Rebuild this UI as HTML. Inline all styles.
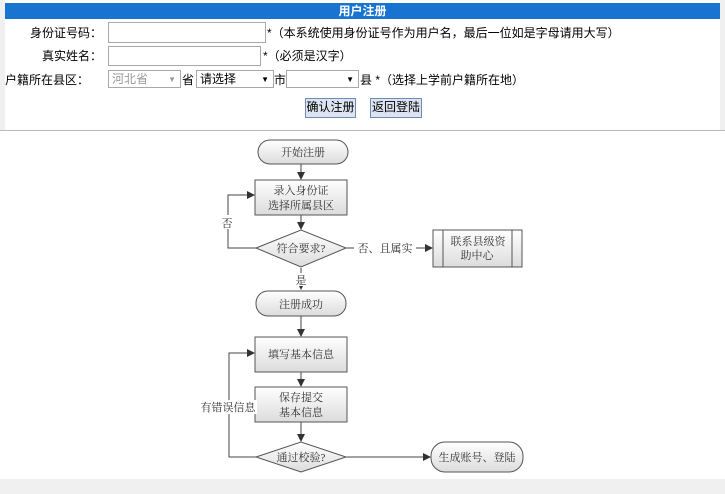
<!DOCTYPE html>
<html><head><meta charset="utf-8"><style>
body{margin:0;width:725px;height:494px;background:#f0f0f0;font-family:"Liberation Sans","Noto Sans CJK SC",sans-serif;font-size:12px;color:#000;position:relative;overflow:hidden}
.a{position:absolute;white-space:nowrap}
.inp{position:absolute;background:#fff;border:1px solid #a8a8a8;box-sizing:border-box}
.sel{position:absolute;background:#fff;border:1px solid #a8a8a8;box-sizing:border-box;font-size:12px;line-height:17px;padding-left:3px}
.btn{position:absolute;background:#dbe4f0;border:1px solid #6d8bb5;box-sizing:border-box;font-size:12px;line-height:17px;text-align:center}
svg text{font-family:"Liberation Serif","Noto Serif CJK SC",serif}
</style></head><body>
<div class="a" style="left:5px;top:0;width:715px;height:130px;background:#fff"></div>
<div class="a" style="left:5px;top:3px;width:715px;height:16px;background:#1874d0;color:#fff;font-weight:bold;text-align:center;line-height:16px;font-size:12px">用户注册</div>
<div class="a" style="left:30px;top:24px">身份证号码：</div>
<div class="inp" style="left:108px;top:22px;width:158px;height:21px"></div>
<div class="a" style="left:267px;top:24px">*（本系统使用身份证号作为用户名，最后一位如是字母请用大写）</div>
<div class="a" style="left:42px;top:47px">真实姓名：</div>
<div class="inp" style="left:108px;top:46px;width:153px;height:20px"></div>
<div class="a" style="left:263px;top:47px">*（必须是汉字）</div>
<div class="a" style="left:5px;top:71px">户籍所在县区：</div>
<div class="sel" style="left:108px;top:70px;width:73px;height:18px;color:#999">河北省<span style="position:absolute;right:4px;font-size:8px">▼</span></div>
<div class="a" style="left:182px;top:71px">省</div>
<div class="sel" style="left:196px;top:70px;width:78px;height:18px">请选择<span style="position:absolute;right:4px;font-size:8px">▼</span></div>
<div class="a" style="left:274px;top:71px">市</div>
<div class="sel" style="left:286px;top:70px;width:73px;height:18px"><span style="position:absolute;right:4px;font-size:8px">▼</span></div>
<div class="a" style="left:360px;top:71px">县 *（选择上学前户籍所在地）</div>
<div class="btn" style="left:305px;top:98px;width:51px;height:20px">确认注册</div>
<div class="btn" style="left:370px;top:98px;width:52px;height:20px">返回登陆</div>
<div class="a" style="left:0;top:130px;width:725px;height:348px;background:#fff;border-top:1px solid #bbb"></div>
<svg class="a" style="left:0;top:0" width="725" height="494" font-size="11">
<defs>
<linearGradient id="g" x1="0" y1="0" x2="0" y2="1"><stop offset="0" stop-color="#fff"/><stop offset="1" stop-color="#dcdcdc"/></linearGradient>
<marker id="m" markerWidth="8" markerHeight="8" refX="7" refY="4" orient="auto" markerUnits="userSpaceOnUse"><path d="M0,0L8,4L0,8z" fill="#333"/></marker>
</defs>
<g stroke="#444" stroke-width="1" fill="none">
<line x1="301" y1="164" x2="301" y2="179" marker-end="url(#m)"/>
<line x1="301" y1="215" x2="301" y2="229" marker-end="url(#m)"/>
<polyline points="256,248 228,248 228,195 254,195" marker-end="url(#m)"/>
<line x1="346" y1="248" x2="432" y2="248" marker-end="url(#m)"/>
<line x1="301" y1="268" x2="301" y2="289" marker-end="url(#m)"/>
<line x1="301" y1="316" x2="301" y2="336" marker-end="url(#m)"/>
<line x1="301" y1="372" x2="301" y2="386" marker-end="url(#m)"/>
<line x1="301" y1="422" x2="301" y2="441" marker-end="url(#m)"/>
<polyline points="256,457 229,457 229,353 254,353" marker-end="url(#m)"/>
<line x1="346" y1="457" x2="430" y2="457" marker-end="url(#m)"/>
</g>
<g stroke="#555" fill="url(#g)">
<rect x="258" y="140" width="90" height="24" rx="12"/>
<rect x="255" y="180" width="92" height="35"/>
<polygon points="256,248 301,230 346,248 301,267"/>
<rect x="433" y="230" width="89" height="37"/>
<line x1="443" y1="230" x2="443" y2="267"/><line x1="512" y1="230" x2="512" y2="267"/>
<rect x="256" y="291" width="90" height="25" rx="12"/>
<rect x="255" y="337" width="92" height="35"/>
<rect x="255" y="387" width="92" height="35"/>
<polygon points="256,457 301,442 346,457 301,472"/>
<rect x="431" y="442" width="92" height="30" rx="14"/>
</g>
<rect x="354" y="241" width="62" height="14" fill="#fff"/>
<rect x="199" y="400" width="58" height="14" fill="#fff"/>
<rect x="220" y="215" width="14" height="14" fill="#fff"/>
<rect x="295" y="273" width="14" height="13" fill="#fff"/>
<g fill="#333" text-anchor="middle">
<text x="303" y="156">开始注册</text>
<text x="301" y="194">录入身份证</text>
<text x="301" y="209">选择所属县区</text>
<text x="301" y="252">符合要求?</text>
<text x="385" y="252">否、且属实</text>
<text x="478" y="245">联系县级资</text>
<text x="477" y="259">助中心</text>
<text x="227" y="227">否</text>
<text x="301" y="284">是</text>
<text x="301" y="308">注册成功</text>
<text x="301" y="358">填写基本信息</text>
<text x="301" y="401">保存提交</text>
<text x="301" y="416">基本信息</text>
<text x="228" y="411">有错误信息</text>
<text x="301" y="461">通过校验?</text>
<text x="477" y="461">生成账号、登陆</text>
</g>
</svg>
</body></html>
